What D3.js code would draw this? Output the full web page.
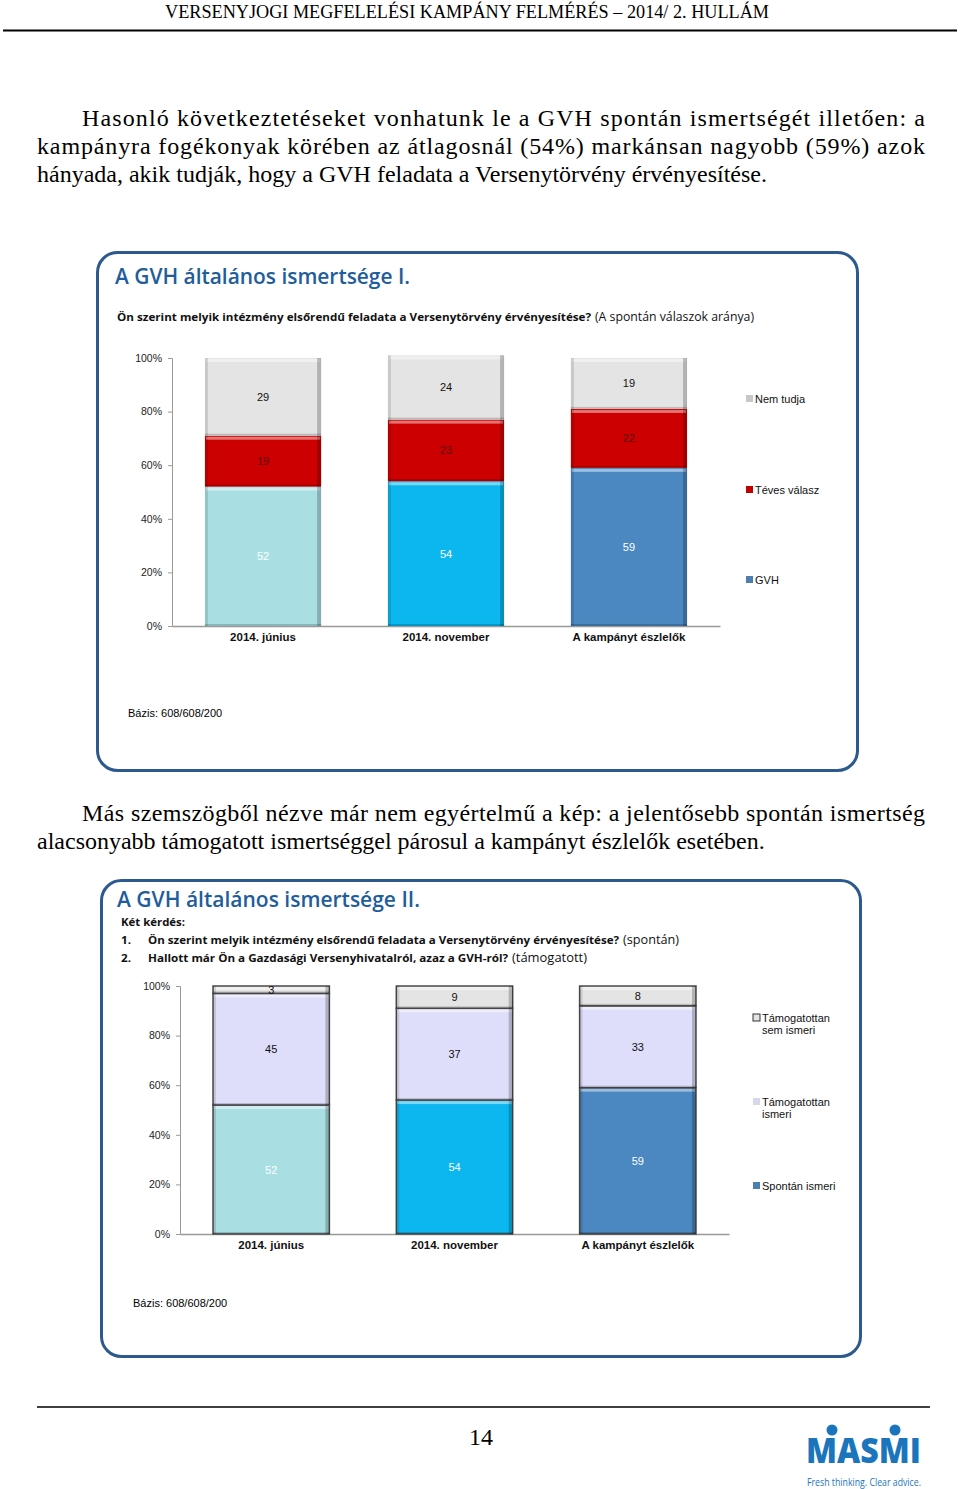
<!DOCTYPE html>
<html><head><meta charset="utf-8">
<script src="https://cdn.jsdelivr.net/npm/d3@7/dist/d3.min.js"></script>
<style>body{margin:0;background:#fff}svg{display:block}</style>
</head><body>
<script>
// ---------- DATA ----------
const categories = ["2014. június", "2014. november", "A kampányt észlelők"];
const yTicks = [0, 20, 40, 60, 80, 100];
// Chart I
const series1Names = ["GVH", "Téves válasz", "Nem tudja"];
const gvhValues = [52, 54, 59];
const tevesValues = [19, 23, 22];
const nemTudjaValues = [29, 24, 19];
// Chart II
const series2Names = ["Spontán ismeri", "Támogatottan ismeri", "Támogatottan sem ismeri"];
const spontanValues = [52, 54, 59];
const tamIsmeriValues = [45, 37, 33];
const tamSemIsmeriValues = [3, 9, 8];
const bazisText = "Bázis: 608/608/200";

// ---------- STYLE ----------
const baseColors = ["#a9dfe3", "#0cb7f0", "#4b87c1"];
const BLUE = "#1f5d9b";
const svg = d3.select("body").append("svg").attr("width", 960).attr("height", 1489);
const serif = "'Liberation Serif','Times New Roman',serif";
const sans = "'Liberation Sans',Arial,sans-serif";
const cal = "'Open Sans','Noto Sans',sans-serif";

// Header
svg.append("text").attr("x", 165).attr("y", 18).attr("font-family", serif).attr("font-size", 18)
  .attr("textLength", 604).attr("lengthAdjust", "spacingAndGlyphs")
  .text("VERSENYJOGI MEGFELELÉSI KAMPÁNY FELMÉRÉS – 2014/ 2. HULLÁM");
svg.append("line").attr("x1", 3).attr("x2", 957).attr("y1", 30.5).attr("y2", 30.5).attr("stroke", "#000").attr("stroke-width", 2);

function para(lines) {
  lines.forEach(l => {
    const t = svg.append("text").attr("x", l.x).attr("y", l.y).attr("font-family", serif).attr("font-size", 24).text(l.t);
    if (l.w) t.attr("textLength", l.w).attr("lengthAdjust", "spacing");
  });
}
para([
  {x: 82, y: 126, w: 843, t: "Hasonló következtetéseket vonhatunk le a GVH spontán ismertségét illetően: a"},
  {x: 37, y: 154, w: 888, t: "kampányra fogékonyak körében az átlagosnál (54%) markánsan nagyobb (59%) azok"},
  {x: 37, y: 182, t: "hányada, akik tudják, hogy a GVH feladata a Versenytörvény érvényesítése."}
]);
para([
  {x: 82, y: 821, w: 843, t: "Más szemszögből nézve már nem egyértelmű a kép: a jelentősebb spontán ismertség"},
  {x: 37, y: 849, t: "alacsonyabb támogatott ismertséggel párosul a kampányt észlelők esetében."}
]);

// Footer
svg.append("line").attr("x1", 37).attr("x2", 930).attr("y1", 1407).attr("y2", 1407).attr("stroke", "#000").attr("stroke-width", 1.5);
svg.append("text").attr("x", 481).attr("y", 1445).attr("text-anchor", "middle").attr("font-family", serif).attr("font-size", 24).text("14");

function logo(x, y, s) {
  const g = svg.append("g").attr("transform", `translate(${x},${y}) scale(${s})`);
  g.append("text").attr("x", 0).attr("y", 0).attr("font-family", cal).attr("font-weight", 800).attr("font-size", 36)
    .attr("fill", "#1b75bc").attr("textLength", 115).attr("lengthAdjust", "spacingAndGlyphs").text("MASMI");
  g.append("circle").attr("cx", 26).attr("cy", -33).attr("r", 5.5).attr("fill", "#1b75bc");
  g.append("circle").attr("cx", 89).attr("cy", -33).attr("r", 5.5).attr("fill", "#1b75bc");
  g.append("text").attr("x", 1).attr("y", 23).attr("font-family", cal).attr("font-size", 11)
    .attr("fill", "#1b75bc").attr("textLength", 114).attr("lengthAdjust", "spacingAndGlyphs").text("Fresh thinking. Clear advice.");
}
logo(806, 1463, 1);
logo(795, 283, 0.44);
logo(798, 907, 0.44);

function box(x, y, w, h) {
  svg.append("rect").attr("x", x).attr("y", y).attr("width", w).attr("height", h).attr("rx", 20)
    .attr("fill", "#fff").attr("stroke", "#2d5a8e").attr("stroke-width", 3);
}
// each part its own text; font-size reduced if needed so natural width fits, then stretched to width
function segText(x, y, parts, size) {
  let cx = x;
  parts.forEach(p => {
    const t = svg.append("text").attr("x", cx).attr("y", y).attr("font-family", cal).attr("font-size", size)
      .attr("fill", "#111").attr("font-weight", p.b ? 700 : 400).text(p.t);
    const nat = t.node().getComputedTextLength();
    if (nat > p.w) t.attr("font-size", (size * p.w / nat) * 0.98);
    t.attr("textLength", p.w).attr("lengthAdjust", "spacingAndGlyphs");
    cx += p.w + 4;
  });
}

// ---------- CHART I frame ----------
box(97.5, 252.5, 760, 518);
svg.append("text").attr("x", 115).attr("y", 284).attr("font-family", cal).attr("font-weight", 600).attr("font-size", 21)
  .attr("fill", BLUE).attr("textLength", 295).attr("lengthAdjust", "spacingAndGlyphs").text("A GVH általános ismertsége I.");
segText(117, 321, [
  {t: "Ön szerint melyik intézmény elsőrendű feladata a Versenytörvény érvényesítése?", b: true, w: 474},
  {t: "(A spontán válaszok aránya)", b: false, w: 159}
], 12);
svg.append("text").attr("x", 128).attr("y", 717).attr("font-family", sans).attr("font-size", 11).text(bazisText);

// ---------- CHART II frame ----------
box(101.5, 880.5, 759, 476);
svg.append("text").attr("x", 117).attr("y", 907).attr("font-family", cal).attr("font-weight", 600).attr("font-size", 21)
  .attr("fill", BLUE).attr("textLength", 303).attr("lengthAdjust", "spacingAndGlyphs").text("A GVH általános ismertsége II.");
segText(121, 926, [{t: "Két kérdés:", b: true, w: 64}], 12);
segText(121, 944, [{t: "1.", b: true, w: 10}], 12);
segText(121, 962, [{t: "2.", b: true, w: 10}], 12);
segText(148, 944, [
  {t: "Ön szerint melyik intézmény elsőrendű feladata a Versenytörvény érvényesítése?", b: true, w: 471},
  {t: "(spontán)", b: false, w: 56}
], 12);
segText(148, 962, [
  {t: "Hallott már Ön a Gazdasági Versenyhivatalról, azaz a GVH-ról?", b: true, w: 360},
  {t: "(támogatott)", b: false, w: 75}
], 12);
svg.append("text").attr("x", 133).attr("y", 1307).attr("font-family", sans).attr("font-size", 11).text(bazisText);

// ---------- generic stacked chart ----------
function stackedChart(cfg) {
  const rows = categories.map((c, i) => {
    const r = {cat: c, i};
    cfg.series.forEach((s, k) => r[s] = cfg.values[k][i]);
    return r;
  });
  const stacked = d3.stack().keys(cfg.series)(rows);
  const x = d3.scaleBand().domain(categories).range([cfg.x0, cfg.x1]).paddingInner(0.365).paddingOuter(0.18);
  const y = d3.scaleLinear().domain([0, 100]).range([cfg.yb, cfg.yt]);
  const g = svg.append("g");

  const ya = g.append("g").attr("transform", `translate(${cfg.x0},0)`)
    .call(d3.axisLeft(y).tickValues(yTicks).tickSize(4).tickPadding(6).tickFormat(d => d + "%"));
  ya.select(".domain").attr("stroke", "#999");
  ya.selectAll(".tick line").attr("stroke", "#999");
  ya.selectAll("text").attr("font-family", sans).attr("font-size", 10.5).attr("fill", "#222");
  const xa = g.append("g").attr("transform", `translate(0,${cfg.yb})`)
    .call(d3.axisBottom(x).tickSize(0).tickPadding(7));
  xa.select(".domain").attr("stroke", "#999").attr("stroke-width", 1.5);
  xa.selectAll("text").attr("font-family", sans).attr("font-size", 11.5).attr("font-weight", 700).attr("fill", "#111");

  stacked.forEach((layer, k) => {
    layer.forEach((d, i) => {
      const bx = x(categories[i]), bw = x.bandwidth();
      const y0 = y(d[1]), h = y(d[0]) - y(d[1]);
      const col = k === 0 ? baseColors[i] : cfg.colors[k];
      const sg = g.append("g");
      sg.append("rect").attr("x", bx).attr("y", y0).attr("width", bw).attr("height", h)
        .attr("fill", col).attr("stroke", cfg.outline).attr("stroke-width", cfg.outlineW);
      sg.append("rect").attr("x", bx + 1).attr("y", y0 + 1).attr("width", bw - 2).attr("height", 3)
        .attr("fill", "#fff").attr("opacity", 0.45);
      sg.append("rect").attr("x", bx).attr("y", y0).attr("width", 3).attr("height", h)
        .attr("fill", "#000").attr("opacity", 0.12);
      sg.append("rect").attr("x", bx + bw - 4).attr("y", y0).attr("width", 4).attr("height", h)
        .attr("fill", "#000").attr("opacity", 0.22);
      sg.append("rect").attr("x", bx).attr("y", y0 + h - 2).attr("width", bw).attr("height", 2)
        .attr("fill", "#000").attr("opacity", 0.18);
      g.append("text").attr("x", bx + bw / 2).attr("y", y((d[0] + d[1]) / 2) + 4)
        .attr("text-anchor", "middle").attr("font-family", sans).attr("font-size", 11)
        .attr("fill", cfg.labelColors[k]).text(d.data[cfg.series[k]]);
    });
  });

  cfg.legend.forEach((L) => {
    g.append("rect").attr("x", L.x).attr("y", L.y - 4).attr("width", 7).attr("height", 7)
      .attr("fill", L.fill).attr("stroke", L.stroke || "none").attr("stroke-width", 1);
    L.lines.forEach((ln, j) => {
      g.append("text").attr("x", L.x + 9).attr("y", L.y + 4 + j * 12)
        .attr("font-family", sans).attr("font-size", 11).attr("fill", "#111").text(ln);
    });
  });
}

stackedChart({
  series: series1Names,
  values: [gvhValues, tevesValues, nemTudjaValues],
  colors: [null, "#cc0000", "#e4e4e4"],
  labelColors: ["#ffffff", "#5a0a0a", "#111111"],
  outline: "none", outlineW: 0,
  x0: 172, x1: 720, yb: 626, yt: 358,
  legend: [
    {x: 746, y: 399, fill: "#c8c8c8", lines: [series1Names[2]]},
    {x: 746, y: 490, fill: "#c00000", lines: [series1Names[1]]},
    {x: 746, y: 580, fill: "#4b7fb0", lines: [series1Names[0]]}
  ]
});

stackedChart({
  series: series2Names,
  values: [spontanValues, tamIsmeriValues, tamSemIsmeriValues],
  colors: [null, "#dedefa", "#e4e4e4"],
  labelColors: ["#ffffff", "#111111", "#111111"],
  outline: "#4a4a4a", outlineW: 1.5,
  x0: 180, x1: 729, yb: 1234, yt: 986,
  legend: [
    {x: 753, y: 1018, fill: "#e4e4e4", stroke: "#333", lines: ["Támogatottan", "sem ismeri"]},
    {x: 753, y: 1102, fill: "#d6d6ee", lines: ["Támogatottan", "ismeri"]},
    {x: 753, y: 1186, fill: "#4b7fb0", lines: [series2Names[0]]}
  ]
});
</script>
</body></html>
